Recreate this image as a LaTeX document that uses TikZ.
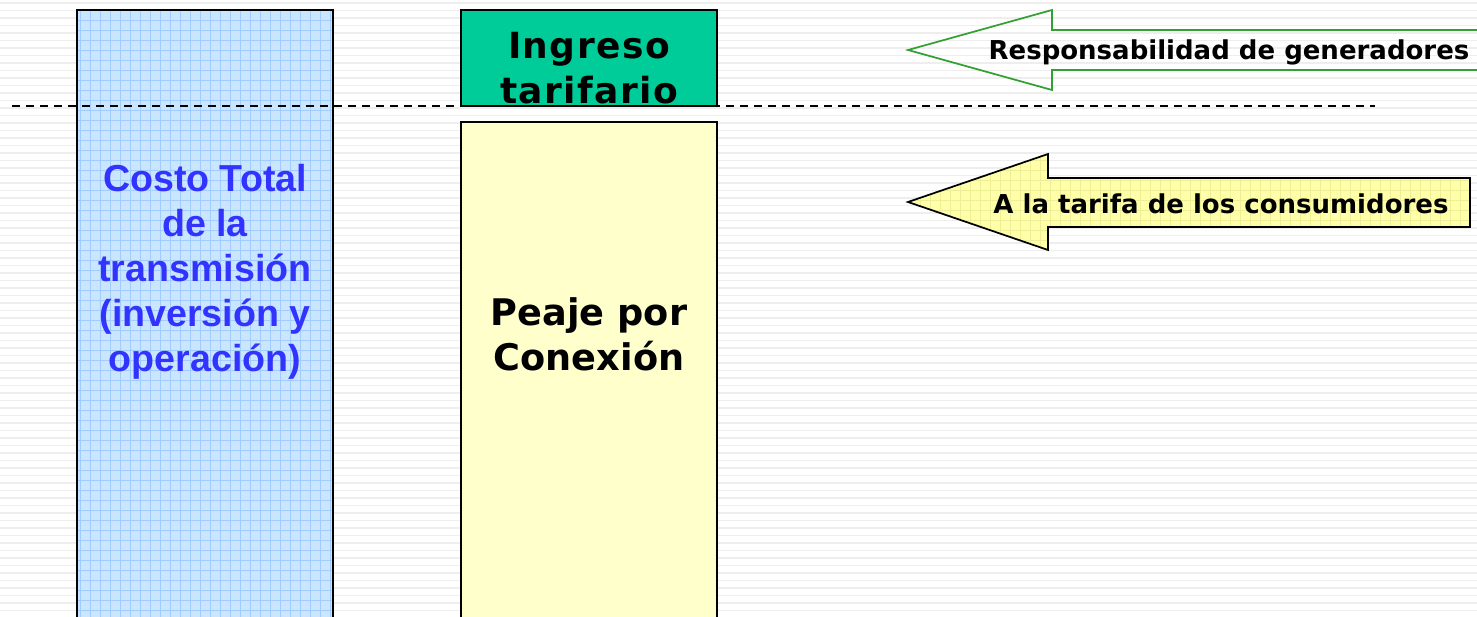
\documentclass[tikz,border=0pt]{standalone}
\usepackage{fontspec}
\usepackage{xcolor}
\newfontfamily\arialfont{Liberation Sans}
\newfontfamily\verdanafont{DejaVu Sans}
\newfontfamily\spacedfont[LetterSpace=4]{DejaVu Sans}
\definecolor{stripegray}{RGB}{238,238,238}
\definecolor{costoblue}{RGB}{204,229,255}
\definecolor{gridblue}{RGB}{160,205,255}
\definecolor{textblue}{RGB}{51,51,255}
\definecolor{ingresogreen}{RGB}{0,204,153}
\definecolor{peajeyellow}{RGB}{255,255,204}
\definecolor{arrowyellow}{RGB}{255,255,170}
\definecolor{gridyellow}{RGB}{238,238,150}
\definecolor{arrowgreen}{RGB}{51,160,51}

\begin{document}
\begin{tikzpicture}[x=0.75pt,y=0.75pt,yscale=-1,xscale=1]
\useasboundingbox (0,0) rectangle (1477,617);
\clip (0,0) rectangle (1477,617);

%Background stripes
\foreach \y in {3,10.5,...,617}
  \draw [color=stripegray, line width=1.3] (0,\y) -- (1477,\y);

%Shape: Rectangle [costo total]
\fill [costoblue] (77,10) rectangle (333,640);
\begin{scope}
\clip (77,10) rectangle (333,640);
\draw [color=gridblue, line width=0.6, step=10] (70,0) grid (340,640);
\end{scope}
\draw [line width=1.4] (77,10) rectangle (333,640);

%Shape: Rectangle [ingreso tarifario]
\draw [fill=ingresogreen, line width=1.4] (461,10) rectangle (717,106);
%Shape: Rectangle [peaje]
\draw [fill=peajeyellow, line width=1.4] (461,122) rectangle (717,640);

%Straight Lines [dashed]
\draw [dash pattern=on 6pt off 4.5pt, line width=1.5] (12,106) -- (1375,106);

%Shape: Left Arrow [generadores]
\draw [color=arrowgreen, line width=1.3] (908,50) -- (1052,10) -- (1052,30) -- (1490,30) -- (1490,70) -- (1052,70) -- (1052,90) -- cycle;
%Shape: Left Arrow [consumidores]
\fill [arrowyellow] (908,202) -- (1048,154) -- (1048,178) -- (1470,178) -- (1470,227) -- (1048,227) -- (1048,250) -- cycle;
\begin{scope}
\clip (908,202) -- (1048,154) -- (1048,178) -- (1470,178) -- (1470,227) -- (1048,227) -- (1048,250) -- cycle;
\draw [color=gridyellow, line width=0.6, step=10] (900,150) grid (1480,260);
\end{scope}
\draw [line width=1.3] (908,202) -- (1048,154) -- (1048,178) -- (1470,178) -- (1470,227) -- (1048,227) -- (1048,250) -- cycle;

% Text Node
\node (costo) at (205,272) [align=center, text=textblue, font=\arialfont\bfseries\fontsize{28.2}{33.75}\selectfont] {Costo Total\\de la\\transmisión\\(inversión y\\operación)};
% Text Node
\node (ingreso) at (589,68) [align=center, font=\spacedfont\bfseries\fontsize{27}{33.75}\selectfont] {Ingreso\\tarifario};
% Text Node
\node (peaje) at (589,334) [align=center, font=\verdanafont\bfseries\fontsize{27.5}{33.75}\selectfont] {Peaje por\\Conexión};
% Text Node
\node (generadores) at (1229,52) [font=\verdanafont\bfseries\fontsize{19.5}{24}\selectfont] {Responsabilidad de generadores};
% Text Node
\node (consumidores) at (1221,204) [font=\verdanafont\bfseries\fontsize{19.5}{24}\selectfont] {A la tarifa de los consumidores};

\end{tikzpicture}
\end{document}
